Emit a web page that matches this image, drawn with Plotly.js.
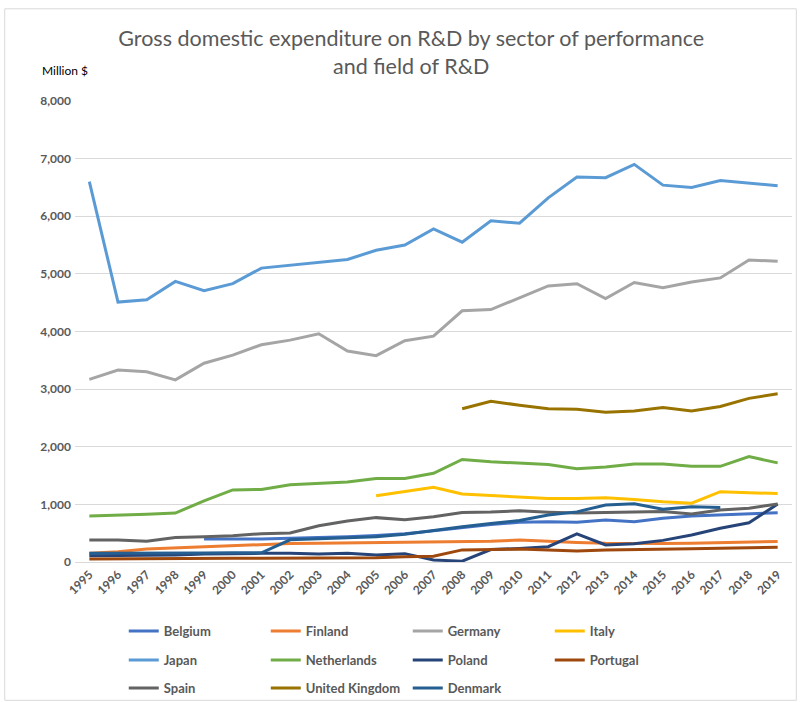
<!DOCTYPE html>
<html>
<head>
<meta charset="utf-8">
<script src="https://cdn.plot.ly/plotly-3.0.1.min.js"></script>
<style>html,body{margin:0;padding:0;background:#fff;}#chart{width:800px;height:702px;}</style>
</head>
<body>
<div id="chart"></div>
<script>
const years = ['1995','1996','1997','1998','1999','2000','2001','2002','2003','2004','2005','2006','2007','2008','2009','2010','2011','2012','2013','2014','2015','2016','2017','2018','2019'];

const belgium     = [null,null,null,null,400,395,400,410,420,440,460,490,540,600,650,690,700,690,730,700,760,800,815,835,855];
const finland     = [150,180,225,245,265,280,305,320,325,330,330,340,340,345,360,380,355,340,325,320,320,325,335,350,355];
const germany     = [3170,3330,3300,3160,3450,3590,3770,3850,3960,3660,3580,3840,3920,4360,4380,4590,4790,4830,4570,4850,4760,4860,4930,5240,5220];
const italy       = [null,null,null,null,null,null,null,null,null,null,1150,1220,1295,1180,1155,1120,1100,1100,1115,1085,1045,1020,1220,1200,1190];
const japan       = [6600,4510,4550,4870,4710,4830,5100,5150,5190,5250,5410,5500,5780,5550,5920,5880,6320,6680,6670,6900,6540,6500,6620,6580,6530];
const netherlands = [800,810,830,850,1060,1250,1260,1340,1370,1390,1450,1450,1540,1780,1740,1720,1690,1620,1650,1700,1700,1660,1660,1830,1720];
const poland      = [110,115,115,120,140,150,150,150,140,150,120,145,35,15,215,235,265,490,295,315,375,470,585,680,1005];
const portugal    = [50,55,55,60,65,65,65,65,65,70,75,90,100,210,220,225,210,190,210,220,225,230,237,240,255];
const spain       = [380,380,362,425,440,457,490,505,630,710,770,735,785,860,868,890,865,850,857,865,875,833,903,932,1007];
const uk          = [null,null,null,null,null,null,null,null,null,null,null,null,null,2660,2790,2720,2660,2650,2600,2620,2680,2620,2700,2840,2920];
const denmark     = [150,150,145,145,155,160,160,385,400,420,440,480,550,610,670,720,815,870,990,1010,915,960,945,null,null];

const series = [
  {name:'Belgium', y:belgium, color:'#4472C4', legend:'legend'},
  {name:'Finland', y:finland, color:'#ED7D31', legend:'legend'},
  {name:'Germany', y:germany, color:'#A5A5A5', legend:'legend'},
  {name:'Italy', y:italy, color:'#FFC000', legend:'legend'},
  {name:'Japan', y:japan, color:'#5B9BD5', legend:'legend2'},
  {name:'Netherlands', y:netherlands, color:'#70AD47', legend:'legend2'},
  {name:'Poland', y:poland, color:'#264478', legend:'legend2'},
  {name:'Portugal', y:portugal, color:'#9E480E', legend:'legend2'},
  {name:'Spain', y:spain, color:'#636363', legend:'legend3'},
  {name:'United Kingdom', y:uk, color:'#997300', legend:'legend3'},
  {name:'Denmark', y:denmark, color:'#255E91', legend:'legend3'}
];

const traces = series.map(s => ({
  type:'scatter', mode:'lines', name:s.name, x:years, y:s.y,
  line:{color:s.color, width:3}, legend:s.legend, connectgaps:false
}));

const FONT = 'Lato, "Open Sans", sans-serif';
const legendBase = {
  orientation:'h', xref:'paper', yref:'container', x:0.068, xanchor:'left', yanchor:'top',
  entrywidth:97, entrywidthmode:'pixels', bgcolor:'rgba(0,0,0,0)',
  font:{family:FONT, size:13, color:'#595959', weight:'bold'}, itemwidth:30, traceorder:'normal'
};

const layout = {
  width:800, height:702,
  margin:{l:75, r:8, t:101, b:140, autoexpand:false},
  paper_bgcolor:'#ffffff', plot_bgcolor:'#ffffff',
  font:{family:FONT, color:'#595959'},
  title:{text:'Gross domestic expenditure on R&D by sector of performance<br>and field of R&D',
         xref:'container', x:0.514, xanchor:'center', yref:'container', y:0.934, yanchor:'top',
         font:{family:FONT, size:21.5, color:'#595959'}},
  xaxis:{type:'category', range:[-0.5,24.5], tickangle:-45, showgrid:false, showline:true, automargin:false,
         linecolor:'#D9D9D9', linewidth:1, ticks:'', zeroline:false,
         tickfont:{family:FONT, size:12, color:'#595959', weight:'bold'}, fixedrange:true},
  yaxis:{range:[0,8000], tickvals:[0,1000,2000,3000,4000,5000,6000,7000,8000], tickformat:',d', automargin:false,
         showgrid:true, gridcolor:'#D9D9D9', gridwidth:1, zeroline:false, showline:false, ticks:'',
         ticklabelstandoff:3,
         tickfont:{family:FONT, size:12, color:'#595959', weight:'bold'}, fixedrange:true},
  showlegend:true,
  legend: Object.assign({}, legendBase, {y:0.1225}),
  legend2: Object.assign({}, legendBase, {y:0.0812}),
  legend3: Object.assign({}, legendBase, {y:0.0413}),
  annotations:[{text:'Million $', xref:'paper', yref:'paper', x:-0.049, y:1.067, xanchor:'left', yanchor:'middle',
                showarrow:false, font:{family:FONT, size:12, color:'#000000'}}],
  shapes:[{type:'rect', xref:'paper', yref:'paper', x0:-0.098, x1:1.006, y0:-0.3, y1:1.2,
           line:{color:'#D9D9D9', width:1}, fillcolor:'rgba(0,0,0,0)', layer:'below'}]
};

Plotly.newPlot('chart', traces, layout, {displayModeBar:false, staticPlot:true});
</script>
</body>
</html>
